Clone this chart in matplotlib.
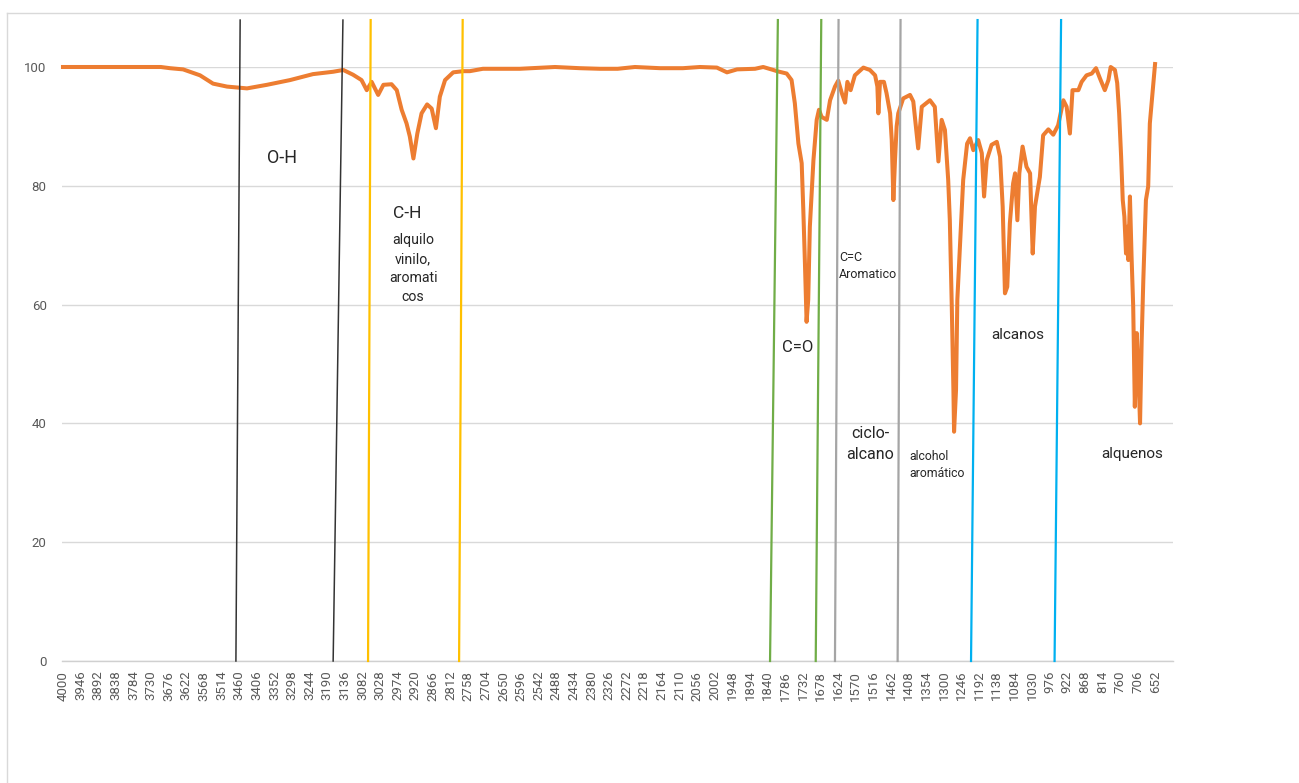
import matplotlib
matplotlib.use("Agg")
import matplotlib.pyplot as plt
from matplotlib.lines import Line2D

# ---------------- data ----------------
wavenumber = [4000, 3900, 3800, 3700, 3672, 3632, 3580, 3540, 3497, 3436, 3375, 3304, 3234,
              3172, 3141, 3111, 3085, 3069, 3054, 3034, 3018, 2993, 2977, 2962, 2947, 2937,
              2926, 2914, 2901, 2884, 2870, 2857, 2845, 2829, 2804, 2773, 2753, 2713, 2600,
              2492, 2416, 2354, 2300, 2247, 2170, 2100, 2048, 1996, 1965, 1934, 1879, 1854,
              1823, 1812, 1782, 1767, 1757, 1746, 1736, 1731, 1726, 1721, 1716, 1711, 1700,
              1690, 1683, 1675, 1659, 1649, 1634, 1624, 1613, 1603, 1596, 1586, 1573, 1547,
              1527, 1511, 1504, 1501, 1496, 1484, 1476, 1465, 1460, 1455, 1450, 1445, 1440,
              1425, 1404, 1394, 1379, 1368, 1343, 1328, 1317, 1307, 1297, 1287, 1282, 1276,
              1271, 1269, 1263, 1259, 1251, 1241, 1229, 1220, 1210, 1195, 1184, 1177, 1169,
              1154, 1138, 1128, 1120, 1113, 1106, 1098, 1088, 1082, 1075, 1069, 1059, 1047,
              1036, 1028, 1021, 1006, 996, 980, 965, 950, 934, 924, 914, 906, 888, 878, 863,
              847, 834, 822, 807, 796, 789, 776, 769, 763, 757, 752, 747, 742, 738, 735, 730,
              725, 720, 715, 709, 704, 699, 694, 689, 681, 674, 669, 660, 653]
transmittance = [100, 100, 100, 100, 99.8, 99.6, 98.6, 97.2, 96.7, 96.4, 97.0, 97.8, 98.8,
                 99.2, 99.5, 98.7, 97.8, 96.1, 97.5, 95.3, 97.0, 97.1, 96.1, 92.8, 90.5, 88.3,
                 84.6, 88.8, 92.2, 93.7, 93.0, 89.7, 95.0, 97.8, 99.1, 99.3, 99.3, 99.7, 99.7,
                 100, 99.8, 99.7, 99.7, 100, 99.8, 99.8, 100, 99.9, 99.1, 99.6, 99.7, 100,
                 99.5, 99.3, 98.9, 97.8, 93.9, 87.1, 83.8, 75.9, 66.9, 57.1, 60.8, 73.1, 84.3,
                 91.1, 92.8, 91.6, 91.1, 94.4, 96.7, 97.7, 95.6, 94.0, 97.5, 96.1, 98.6, 99.9,
                 99.5, 98.6, 96.7, 92.2, 97.5, 97.5, 95.6, 92.2, 87.7, 77.6, 84.3, 90.0, 92.2,
                 94.7, 95.3, 94.2, 86.3, 93.3, 94.4, 93.3, 84.1, 91.1, 89.4, 81.0, 74.2, 59.7,
                 45.6, 38.6, 45.6, 60.8, 69.8, 81.0, 87.1, 88.0, 86.0, 87.7, 85.5, 78.2, 84.3,
                 86.9, 87.4, 84.9, 76.5, 61.9, 63.0, 73.7, 80.4, 82.1, 74.2, 82.1, 86.6, 83.2,
                 82.1, 68.6, 76.5, 81.5, 88.5, 89.5, 88.6, 90.2, 94.4, 93.3, 88.8, 96.1, 96.1,
                 97.5, 98.6, 98.9, 99.8, 98.1, 96.1, 97.8, 100.0, 99.5, 97.3, 92.2, 84.9, 77.6,
                 74.8, 68.6, 73.1, 67.5, 78.2, 68.1, 59.7, 42.8, 55.2, 48.4, 40.0, 54.0, 64.1,
                 77.6, 79.9, 90.5, 96.1, 100.5]

tick_labels = list(range(4000, 651, -54))
y_ticks = [0, 20, 40, 60, 80, 100]

# region boundary lines: (wavenumber at bottom, wavenumber at top, colour)
line_bottom = [3470, 3172, 3065, 2786, 1833, 1693, 1634, 1442, 1217, 961]
line_top = [3457, 3142, 3057, 2775, 1809, 1676, 1623, 1433, 1197, 941]
line_colors = ["#333333", "#333333", "#FFC000", "#FFC000", "#70AD47", "#70AD47",
               "#A5A5A5", "#A5A5A5", "#00B0F0", "#00B0F0"]

# annotations: text, x (wavenumber), y (%T), size, ha
ann_text = ["O-H", "C-H", "alquilo\nvinilo,\naromati\ncos", "C=O", "C=C\nAromatico",
            "ciclo-\nalcano", "alcohol\naromático", "alcanos", "alquenos"]
ann_x = [3329, 2946, 2927, 1747, 1622, 1527, 1407, 1073, 724]
ann_y = [84.7, 75.3, 66.1, 52.7, 66.5, 36.5, 33.0, 54.9, 34.8]
ann_size = [13, 12.5, 10.2, 12, 9, 11.5, 8.8, 11, 11]
ann_ha = ["center", "center", "center", "center", "left", "center", "left", "center", "center"]

# ---------------- figure ----------------
W, H = 1299, 783
fig = plt.figure(figsize=(W / 100, H / 100), dpi=100)
fig.patch.set_facecolor("white")
ax = fig.add_axes([62 / W, (H - 661) / H, 1111 / W, 594 / H])

font = ["Roboto", "DejaVu Sans"]

ax.set_xlim(4003, 598)
ax.set_ylim(0, 100)
ax.set_yticks(y_ticks)
ax.set_yticklabels([str(v) for v in y_ticks], family=font, fontsize=9.5, color="#595959")
ax.set_xticks(tick_labels)
ax.set_xticklabels([str(v) for v in tick_labels], rotation=90, family=font,
                   fontsize=9.5, color="#595959")
ax.tick_params(axis="both", length=0)
ax.tick_params(axis="y", pad=11)
ax.tick_params(axis="x", pad=7)
ax.grid(axis="y", color="#D9D9D9", linewidth=1.0)
ax.set_axisbelow(True)
for s in ["top", "right", "left"]:
    ax.spines[s].set_visible(False)
ax.spines["bottom"].set_color("#D0D0D0")
ax.spines["bottom"].set_linewidth(1.0)

ax.plot(wavenumber, transmittance, color="#ED7D31", linewidth=2.9,
        solid_joinstyle="round", zorder=3, clip_on=False)

top_val = 107.9
for xb, xt, c in zip(line_bottom, line_top, line_colors):
    lw = 1.1 if c == "#333333" else 1.6
    ax.plot([xb, xt], [0, top_val], color=c, linewidth=lw, zorder=4, clip_on=False)

for t, x, y, s, ha in zip(ann_text, ann_x, ann_y, ann_size, ann_ha):
    ax.text(x, y, t, fontsize=s, family=font, color="#262626", ha=ha, va="center",
            linespacing=1.45, zorder=5)

# outer chart border (only top and left visible)
fig.add_artist(Line2D([7 / W, 1.0], [1 - 12.5 / H, 1 - 12.5 / H], color="#D9D9D9",
                      linewidth=1.0, transform=fig.transFigure))
fig.add_artist(Line2D([7 / W, 7 / W], [0, 1 - 12.5 / H], color="#D9D9D9",
                      linewidth=1.0, transform=fig.transFigure))

fig.savefig("out.png", dpi=100, facecolor="white")
